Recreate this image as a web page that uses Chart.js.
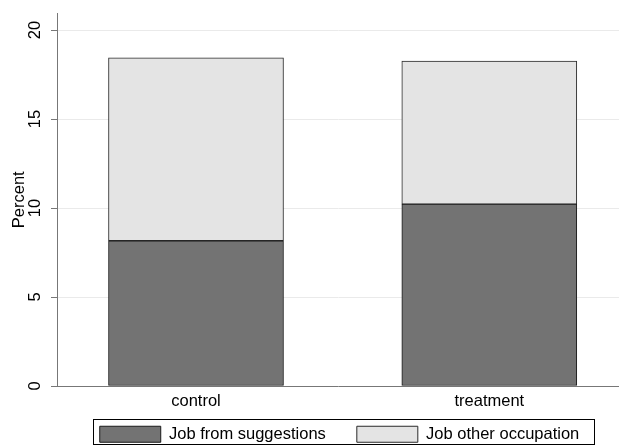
<!DOCTYPE html>
<html><head><meta charset="utf-8">
<script src="https://cdn.jsdelivr.net/npm/chart.js@4/dist/chart.umd.min.js"></script>
<style>html,body{margin:0;padding:0;background:#fff}#wrap{width:619px;height:445px;position:relative}</style>
</head><body><div id="wrap"><canvas id="c"></canvas></div>
<script>
const categories = ['control', 'treatment'];
const seriesNames = ['Job from suggestions', 'Job other occupation'];
const jobFromSuggestions = [8.16, 10.22];
const jobOtherOccupation = [10.28, 8.04];
const yTicks = [0, 5, 10, 15, 20];
const yAxisTitle = 'Percent';

const FONT = "'Liberation Sans', Arial, Helvetica, sans-serif";
Chart.defaults.font.family = FONT;
Chart.defaults.font.size = 16.5;
Chart.defaults.color = '#000';

const toPoints = arr => arr.map((v, i) => ({x: i, y: v}));

const legendFrame = {
  id: 'legendFrame',
  afterLayout(chart) {
    const lg = chart.legend, ca = chart.chartArea;
    const shift = (ca.left + ca.right) / 2 - (lg.left + lg.right) / 2 + 1.5;
    lg.left += shift; lg.right += shift;
    const pad = lg.options.labels.padding;
    lg.top = 426 - pad; lg.bottom = chart.height; lg.height = lg.bottom - lg.top;
  },
  afterDraw(chart) {
    const hb = chart.legend.legendHitBoxes;
    if (!hb || !hb.length) return;
    const ctx = chart.ctx;
    const first = hb[0], last = hb[hb.length - 1];
    const l = Math.round(first.left - 6.5) + 0.5;
    const r = Math.round(last.left + last.width + 15) + 0.5;
    const t = Math.round(first.top - 7) + 0.5;
    const b = 444.5;
    ctx.save();
    ctx.strokeStyle = '#000'; ctx.lineWidth = 1;
    ctx.strokeRect(l, t, r - l, b - t);
    ctx.restore();
  }
};

new Chart(document.getElementById('c'), {
  type: 'bar',
  data: {
    datasets: [
      {label: seriesNames[0], data: toPoints(jobFromSuggestions), backgroundColor: '#737373',
       borderColor: '#1a1a1a', borderWidth: 1, borderSkipped: false, barThickness: 175},
      {label: seriesNames[1], data: toPoints(jobOtherOccupation), backgroundColor: '#e4e4e4',
       borderColor: '#2a2a2a', borderWidth: 1, borderSkipped: false, barThickness: 175}
    ]
  },
  options: {
    responsive: true, maintainAspectRatio: false, animation: false,
    layout: {padding: {top: 13.5, left: 0, right: 0, bottom: 0}},
    scales: {
      x: {
        type: 'linear', stacked: true, offset: false, min: -0.4739, max: 1.4422,
        afterBuildTicks: s => { s.ticks = categories.map((_, i) => ({value: i})); },
        afterFit: s => { s.height = 29; s.paddingLeft = 0; s.paddingRight = 0; },
        ticks: {callback: v => categories[v] ?? '', padding: 6, maxRotation: 0, autoSkip: false, color: '#000'},
        grid: {display: false, drawTicks: false, offset: false},
        border: {color: '#777', width: 1}
      },
      y: {
        stacked: true, min: 0, max: 20.93,
        afterBuildTicks: s => { s.ticks = yTicks.map(v => ({value: v})); },
        afterFit: s => { s.width = 57; s.paddingTop = 0; s.paddingBottom = 0; },
        ticks: {minRotation: 90, maxRotation: 90, crossAlign: 'center', padding: 6, color: '#000'},
        grid: {color: '#eaeaea', tickColor: '#777', tickLength: 6, drawTicks: true, lineWidth: 1},
        border: {color: '#777', width: 1},
        title: {display: true, text: yAxisTitle, padding: {top: 10, bottom: 0}, color: '#000'}
      }
    },
    plugins: {
      legend: {
        position: 'bottom', maxHeight: 30,
        labels: {boxWidth: 61, boxHeight: 16, padding: 31, color: '#000'}
      },
      tooltip: {enabled: false}
    }
  },
  plugins: [legendFrame]
});
</script>
</body></html>
